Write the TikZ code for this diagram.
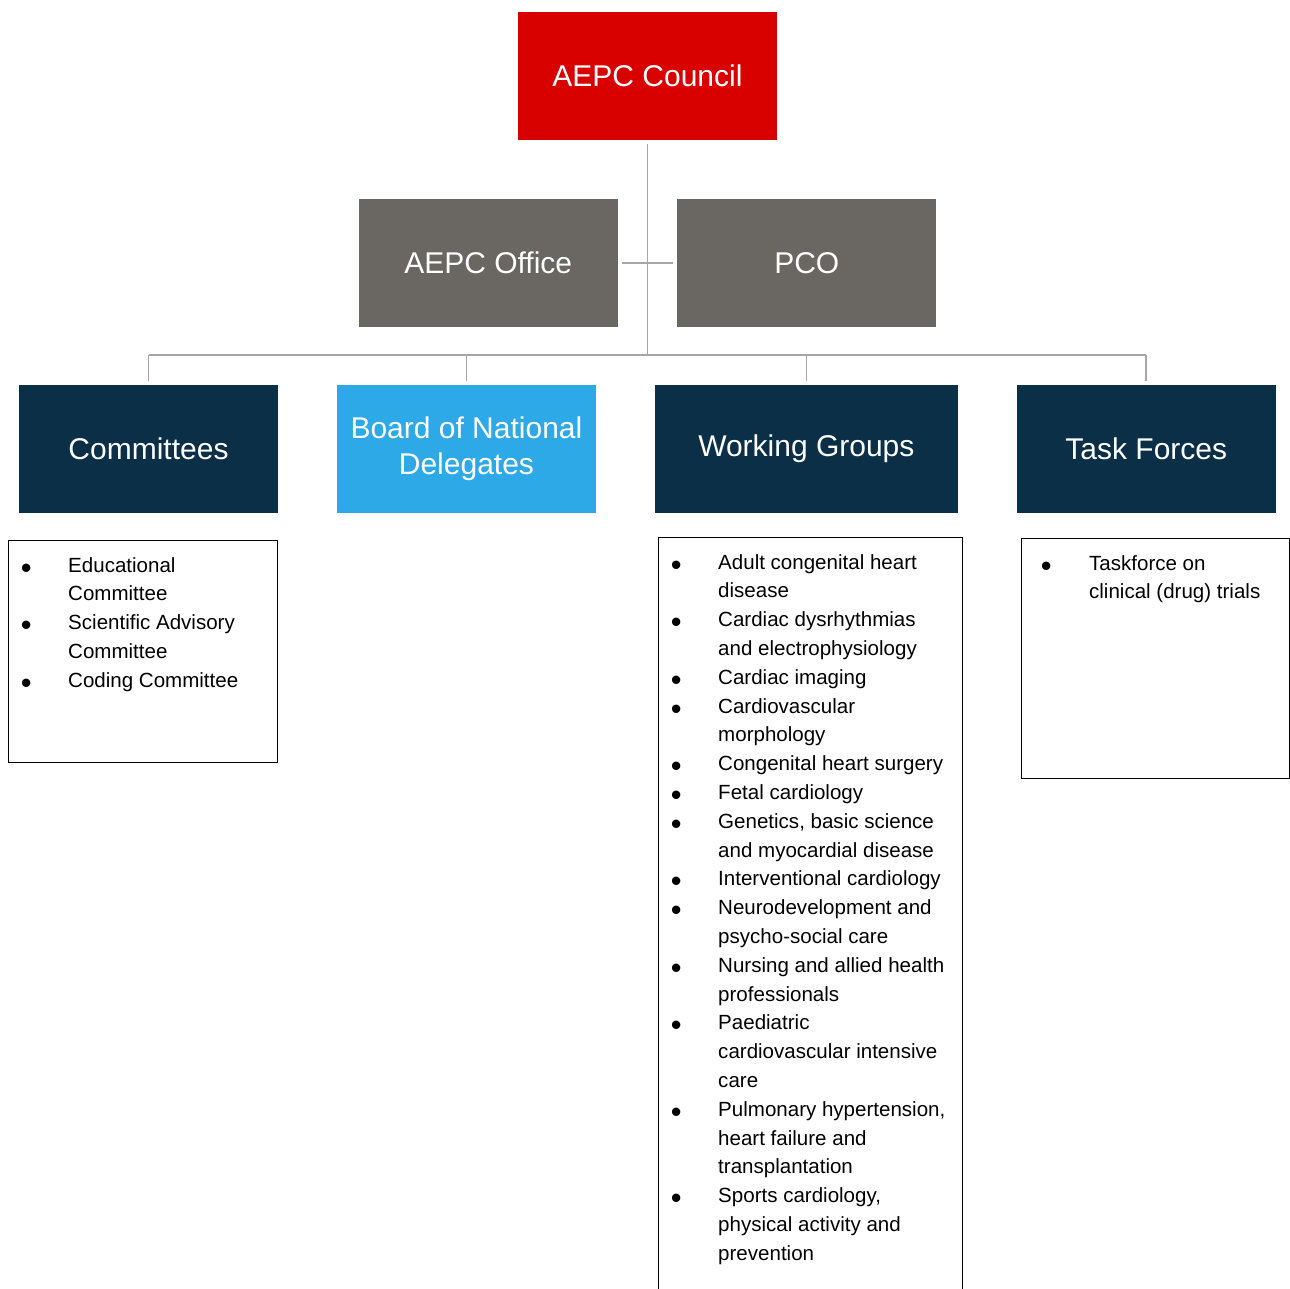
\documentclass[tikz,border=0pt]{standalone}
\usepackage{fontspec}
\setmainfont{Liberation Sans}
\usetikzlibrary{positioning}
\definecolor{councilred}{HTML}{D90000}
\definecolor{staffgray}{HTML}{6A6661}
\definecolor{navy}{HTML}{0B2F46}
\definecolor{boardblue}{HTML}{2EA9E8}
\definecolor{linkgray}{HTML}{A6A6A6}
\newcommand{\listdot}{\raisebox{-0.3em}{\scalebox{1.5}{\textbullet}}}

\begin{document}
\begin{tikzpicture}[x=0.75pt,y=-0.75pt,node distance=44.25pt]

\tikzset{head/.style={inner sep=0pt,minimum width=194.25pt,minimum height=96pt,text=white,font=\fontsize{22.5}{27}\selectfont,align=center,shape=rectangle},
council/.style={head,fill=councilred},
staff/.style={head,fill=staffgray},
branch/.style={head,fill=navy},
delegates/.style={head,fill=boardblue},
listbox/.style={draw=black,line width=0.8pt,inner sep=0pt,shape=rectangle,anchor=north west},
listtext/.style={inner sep=0pt,anchor=base west,font=\fontsize{15.4}{21.6}\selectfont},
link/.style={draw=linkgray,line width=1.3pt}}

\useasboundingbox (0,0) rectangle (1290,1289);
\clip (0,0) rectangle (1290,1289);

% Council and support
\node (council) [council] at (647.5,75.5) {AEPC Council};
\node (office) [staff,below left=44.25pt and 22.125pt of council.south] {AEPC Office};
\node (pco) [staff,right=of office] {PCO};

% Branches
\node (committees) [branch] at (148.5,449) {Committees};
\node (board) [delegates,right=43.8pt of committees] {Board of National\\Delegates};
\node (wgroups) [branch,minimum width=227.25pt,right=43.8pt of board] {Working Groups};
\node (tasks) [branch,right=43.8pt of wgroups] {Task Forces};

% Connectors
\coordinate (bus) at (647.5,355);
\draw[link,shorten <=3pt] (council.south) -- (bus);
\draw[link,shorten <=3pt,shorten >=3pt] (office.east) -- (pco.west);
\draw[link] (committees.north |- bus) -- (tasks.north |- bus);
\foreach \n in {committees,board,wgroups,tasks}
  \draw[link,shorten >=3pt] (\n.north |- bus) -- (\n.north);

% Member lists
\node (comlist) [listbox,minimum width=201.75pt,minimum height=166.5pt] at (8,540) {};
\node (wglist) [listbox,minimum width=228pt,minimum height=600pt] at (658,537) {};
\node (tflist) [listbox,minimum width=201pt,minimum height=180pt] at (1021,538) {};

\node (comtext) [listtext] at (20.5,572) {\begin{tabular}[t]{@{}p{35.6pt}@{}l@{}}
\listdot & Educational\\
 & Committee\\
\listdot & Scientific Advisory\\
 & Committee\\
\listdot & Coding Committee
\end{tabular}};

\node (wgtext) [listtext] at (670.5,569) {\begin{tabular}[t]{@{}p{35.6pt}@{}l@{}}
\listdot & Adult congenital heart\\
 & disease\\
\listdot & Cardiac dysrhythmias\\
 & and electrophysiology\\
\listdot & Cardiac imaging\\
\listdot & Cardiovascular\\
 & morphology\\
\listdot & Congenital heart surgery\\
\listdot & Fetal cardiology\\
\listdot & Genetics, basic science\\
 & and myocardial disease\\
\listdot & Interventional cardiology\\
\listdot & Neurodevelopment and\\
 & psycho-social care\\
\listdot & Nursing and allied health\\
 & professionals\\
\listdot & Paediatric\\
 & cardiovascular intensive\\
 & care\\
\listdot & Pulmonary hypertension,\\
 & heart failure and\\
 & transplantation\\
\listdot & Sports cardiology,\\
 & physical activity and\\
 & prevention
\end{tabular}};

\node (tftext) [listtext] at (1040.5,570) {\begin{tabular}[t]{@{}p{36.3pt}@{}l@{}}
\listdot & Taskforce on\\
 & clinical (drug) trials
\end{tabular}};

\end{tikzpicture}
\end{document}
